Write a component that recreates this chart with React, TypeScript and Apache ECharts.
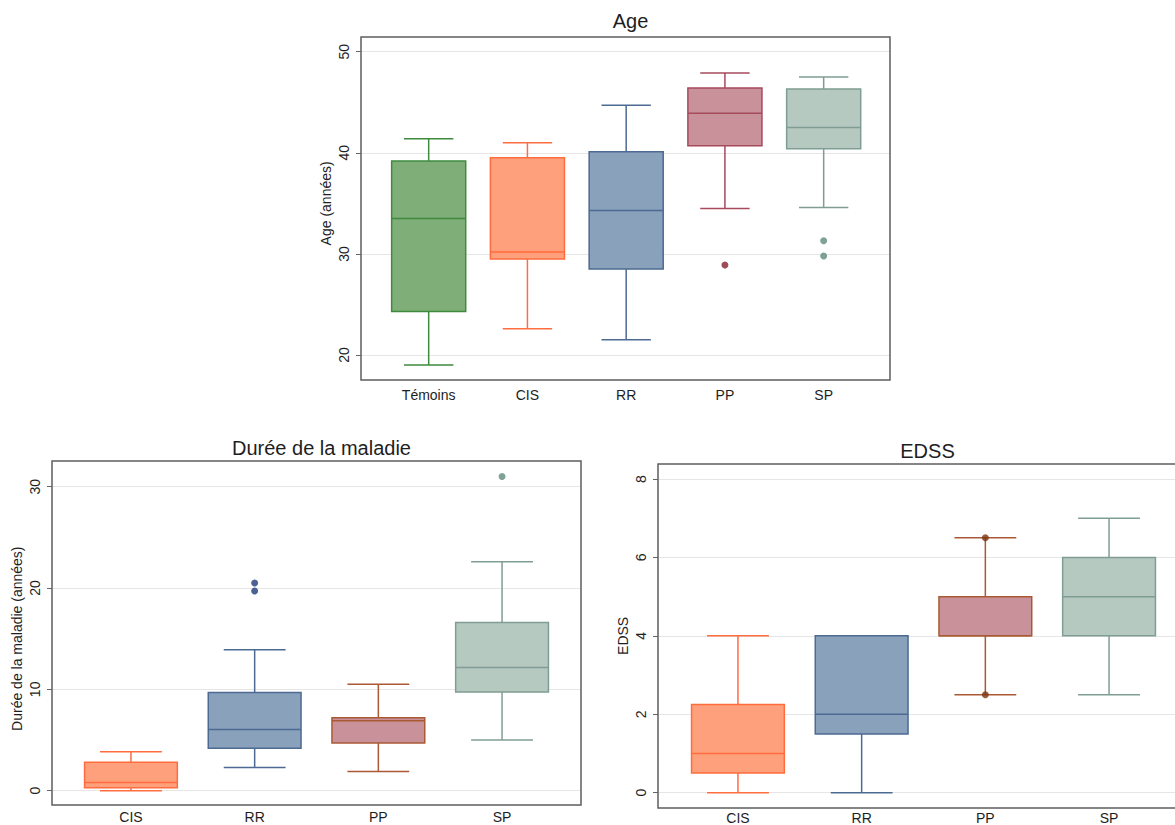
import React, { useEffect, useRef } from "react";
import * as echarts from "echarts";

const FONT = '"Liberation Sans", Arial, Helvetica, sans-serif';
const TEXT = "#1e1e1e";

// ---- Age ----
const ageCategories = ["Témoins", "CIS", "RR", "PP", "SP"];
const ageMin = [19.0, 22.6, 21.5, 34.5, 34.6];
const ageQ1 = [24.3, 29.5, 28.5, 40.7, 40.4];
const ageMedian = [33.5, 30.2, 34.3, 43.9, 42.5];
const ageQ3 = [39.2, 39.5, 40.1, 46.4, 46.3];
const ageMax = [41.4, 41.0, 44.7, 47.9, 47.5];
const ageOutliers = [
  [3, 28.9],
  [4, 31.3],
  [4, 29.8],
];
const ageTicks = [20, 50, 10];

// ---- Durée de la maladie ----
const dureeCategories = ["CIS", "RR", "PP", "SP"];
const dureeMin = [0, 2.3, 1.9, 5.0];
const dureeQ1 = [0.3, 4.2, 4.7, 9.75];
const dureeMedian = [0.8, 6.05, 6.9, 12.15];
const dureeQ3 = [2.8, 9.7, 7.2, 16.6];
const dureeMax = [3.85, 13.9, 10.5, 22.6];
const dureeOutliers = [
  [1, 20.5],
  [1, 19.7],
  [3, 31.0],
];
const dureeTicks = [0, 30, 10];

// ---- EDSS ----
const edssCategories = ["CIS", "RR", "PP", "SP"];
const edssMin = [0, 0, 2.5, 2.5];
const edssQ1 = [0.5, 1.5, 4, 4];
const edssMedian = [1, 2, 4, 5];
const edssQ3 = [2.25, 4, 5, 6];
const edssMax = [4, 4, 6.5, 7];
const edssOutliers = [
  [2, 6.5],
  [2, 2.5],
];
const edssTicks = [0, 8, 2];

// colours
const GREEN = { fill: "#80ae79", stroke: "#3e8a3e", out: "#3e8a3e" };
const ORANGE = { fill: "#ffa07c", stroke: "#ff6c3e", out: "#ff6c3e" };
const BLUE = { fill: "#8aa1bb", stroke: "#4c6a92", out: "#1f3b7a" };
const ROSE = { fill: "#c9929a", stroke: "#a64a5c", out: "#8b1e2e" };
const SAGE = { fill: "#b6c9c1", stroke: "#7f9d94", out: "#5f8a7d" };
const ROSE_BROWN = { fill: "#c9929a", stroke: "#a95a34", out: "#7a3510" };

type ChartCfg = {
  title: string;
  yName: string;
  categories: string[];
  mins: number[];
  q1s: number[];
  meds: number[];
  q3s: number[];
  maxs: number[];
  outliers: number[][];
  colors: { fill: string; stroke: string; out: string }[];
  ticks: number[];
  frame: { x: number; y: number; w: number; h: number };
  plotTop: number;
  plotHeight: number;
  bandLeft: number;
  bandWidth: number;
  titleTop: number;
  nameGap: number;
  labelMargin: number;
};

const charts: ChartCfg[] = [
  {
    title: "Age",
    yName: "Age (années)",
    categories: ageCategories,
    mins: ageMin,
    q1s: ageQ1,
    meds: ageMedian,
    q3s: ageQ3,
    maxs: ageMax,
    outliers: ageOutliers,
    colors: [GREEN, ORANGE, BLUE, ROSE, SAGE],
    ticks: ageTicks,
    frame: { x: 361, y: 37, w: 529, h: 343 },
    plotTop: 51.7,
    plotHeight: 303.3,
    bandLeft: 379.3,
    bandWidth: 493.75,
    titleTop: 6,
    nameGap: 28,
    labelMargin: 8,
  },
  {
    title: "Durée de la maladie",
    yName: "Durée de la maladie (années)",
    categories: dureeCategories,
    mins: dureeMin,
    q1s: dureeQ1,
    meds: dureeMedian,
    q3s: dureeQ3,
    maxs: dureeMax,
    outliers: dureeOutliers,
    colors: [ORANGE, BLUE, ROSE_BROWN, SAGE],
    ticks: dureeTicks,
    frame: { x: 52, y: 461, w: 529, h: 344 },
    plotTop: 486.7,
    plotHeight: 304,
    bandLeft: 69.1,
    bandWidth: 494.8,
    titleTop: 433,
    nameGap: 28,
    labelMargin: 5,
  },
  {
    title: "EDSS",
    yName: "EDSS",
    categories: edssCategories,
    mins: edssMin,
    q1s: edssQ1,
    meds: edssMedian,
    q3s: edssQ3,
    maxs: edssMax,
    outliers: edssOutliers,
    colors: [ORANGE, BLUE, ROSE_BROWN, SAGE],
    ticks: edssTicks,
    frame: { x: 658, y: 464, w: 529, h: 344 },
    plotTop: 479,
    plotHeight: 313.7,
    bandLeft: 676.1,
    bandWidth: 494.8,
    titleTop: 436,
    nameGap: 28,
    labelMargin: 3,
  },
];

function buildOption() {
  const grid: any[] = [];
  const xAxis: any[] = [];
  const yAxis: any[] = [];
  const series: any[] = [];
  const title: any[] = [];
  const graphic: any[] = [];

  charts.forEach((c, k) => {
    const a = 2 * k;
    const b = 2 * k + 1;
    const [yMin, yMax, yInt] = c.ticks;
    const frameBottom = c.frame.y + c.frame.h;
    const plotBottom = c.plotTop + c.plotHeight;

    title.push({
      text: c.title,
      left: c.frame.x + c.frame.w / 2,
      top: c.titleTop,
      textAlign: "center",
      textStyle: { fontFamily: FONT, fontSize: 20, fontWeight: "normal", color: TEXT },
    });

    grid.push({
      left: c.frame.x,
      top: c.plotTop,
      width: c.frame.w,
      height: c.plotHeight,
      containLabel: false,
      outerBoundsMode: "none",
    });
    grid.push({
      left: c.bandLeft,
      top: c.plotTop,
      width: c.bandWidth,
      height: c.plotHeight,
      containLabel: false,
      outerBoundsMode: "none",
    });

    xAxis.push({ gridIndex: a, type: "value", show: false, min: 0, max: 1 });
    xAxis.push({
      gridIndex: b,
      type: "category",
      data: c.categories,
      offset: frameBottom - plotBottom,
      axisLine: { show: false },
      axisTick: { show: false },
      axisLabel: { interval: 0, margin: c.labelMargin, fontFamily: FONT, fontSize: 14, color: TEXT },
    });

    yAxis.push({
      gridIndex: a,
      type: "value",
      min: yMin,
      max: yMax,
      interval: yInt,
      name: c.yName,
      nameLocation: "middle",
      nameGap: c.nameGap,
      nameTextStyle: { fontFamily: FONT, fontSize: 14, color: TEXT },
      axisLine: { show: false },
      axisTick: { show: true, length: 5, lineStyle: { color: "#666", width: 1 } },
      axisLabel: { rotate: 90, margin: 10, fontFamily: FONT, fontSize: 14, color: TEXT },
      splitLine: { show: true, lineStyle: { color: "#e6e6e6", width: 1 } },
    });
    yAxis.push({ gridIndex: b, type: "value", min: yMin, max: yMax, show: false });

    const rows = c.categories.map((_, i) => [i, c.mins[i], c.q1s[i], c.meds[i], c.q3s[i], c.maxs[i]]);
    const colors = c.colors;

    series.push({
      type: "custom",
      xAxisIndex: b,
      yAxisIndex: b,
      clip: false,
      z: 2,
      encode: { x: 0, y: [1, 2, 3, 4, 5] },
      data: rows,
      renderItem: (params: any, api: any) => {
        const i = api.value(0);
        const x = api.coord([i, api.value(3)])[0];
        const yLo = api.coord([i, api.value(1)])[1];
        const yQ1 = api.coord([i, api.value(2)])[1];
        const yMed = api.coord([i, api.value(3)])[1];
        const yQ3 = api.coord([i, api.value(4)])[1];
        const yHi = api.coord([i, api.value(5)])[1];
        const band = api.size([1, 0])[0];
        const bw = band * 0.75;
        const cw = band * 0.5;
        const col = colors[i];
        const ls = { stroke: col.stroke, lineWidth: 1.5 };
        return {
          type: "group",
          children: [
            { type: "line", shape: { x1: x, y1: yQ3, x2: x, y2: yHi }, style: ls },
            { type: "line", shape: { x1: x, y1: yQ1, x2: x, y2: yLo }, style: ls },
            { type: "line", shape: { x1: x - cw / 2, y1: yHi, x2: x + cw / 2, y2: yHi }, style: ls },
            { type: "line", shape: { x1: x - cw / 2, y1: yLo, x2: x + cw / 2, y2: yLo }, style: ls },
            {
              type: "rect",
              shape: { x: x - bw / 2, y: yQ3, width: bw, height: yQ1 - yQ3 },
              style: { fill: col.fill, stroke: col.stroke, lineWidth: 1.5 },
            },
            { type: "line", shape: { x1: x - bw / 2, y1: yMed, x2: x + bw / 2, y2: yMed }, style: ls },
          ],
        };
      },
    });

    series.push({
      type: "scatter",
      xAxisIndex: b,
      yAxisIndex: b,
      clip: false,
      z: 3,
      symbol: "circle",
      symbolSize: 7,
      data: c.outliers.map((o) => ({
        value: [o[0], o[1]],
        itemStyle: { color: colors[o[0]].out },
      })),
    });

    graphic.push({
      type: "rect",
      shape: { x: c.frame.x, y: c.frame.y, width: c.frame.w, height: c.frame.h },
      style: { fill: "none", stroke: "#5e5e5e", lineWidth: 1.5 },
      z: 10,
      silent: true,
    });
  });

  return {
    animation: false,
    backgroundColor: "#ffffff",
    textStyle: { fontFamily: FONT },
    title,
    grid,
    xAxis,
    yAxis,
    series,
    graphic,
  };
}

export default function App() {
  const ref = useRef<HTMLDivElement>(null);
  useEffect(() => {
    if (!ref.current) return;
    const chart = echarts.init(ref.current, undefined, { renderer: "svg" });
    chart.setOption(buildOption() as any);
    return () => {
      chart.dispose();
    };
  }, []);
  return (
    <div
      ref={ref}
      style={{ position: "absolute", left: 0, top: 0, width: 1175, height: 825, background: "#fff" }}
    />
  );
}
